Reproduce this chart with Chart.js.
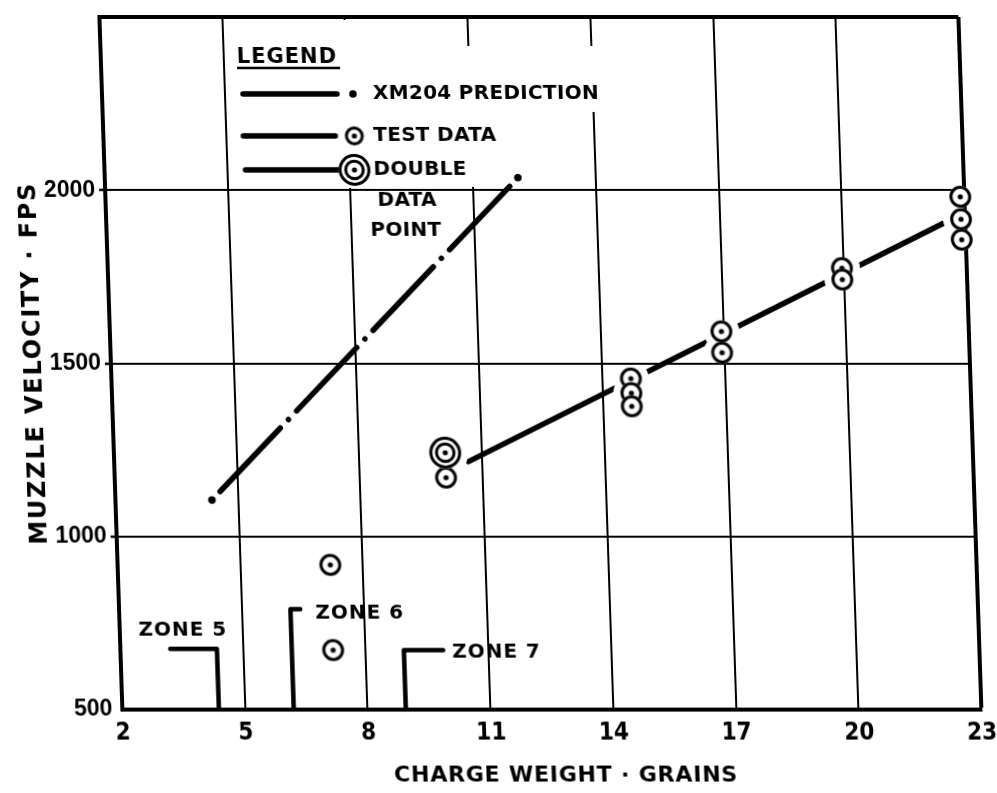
<!DOCTYPE html>
<html><head><meta charset="utf-8">
<script src="https://cdn.jsdelivr.net/npm/chart.js@4.4.0/dist/chart.umd.min.js"></script>
<style>
html,body{margin:0;padding:0;background:#fff;overflow:hidden;}
#wrap{width:997px;height:793px;position:relative;overflow:hidden;background:#fff;}
#c{display:block;transform:skewX(1.9deg);transform-origin:50% 50%;}
</style></head><body><div id="wrap"><canvas id="c" width="997" height="793"></canvas></div>
<script>
// ---- data ----
const xTicks = [2, 5, 8, 11, 14, 17, 20, 23];
const yTicks = [500, 1000, 1500, 2000, 2500];
const yTickLabels = ['500', '1000', '1500', '2000', ''];
const predictionX = [4.36, 12.1];
const predictionY = [1105, 2036];
const testX = [7.2, 7.2, 10.1, 14.7, 14.7, 14.7, 16.95, 16.95, 19.95, 19.95, 22.9, 22.9, 22.9];
const testY = [918, 672, 1170, 1456, 1414, 1376, 1592, 1531, 1775, 1742, 1981, 1916, 1857];
const doubleX = [10.1];
const doubleY = [1242];
const fitX = [10.66, 22.46];
const fitY = [1216, 1904];
const zoneNames = ['ZONE 5', 'ZONE 6', 'ZONE 7'];
const zoneCharge = [4.36, 6.19, 8.93];
const zoneTop = [675, 790, 672];
const zoneArmEnd = [3.22, 6.43, 9.89];
const legendLabels = ['LEGEND', 'XM204 PREDICTION', 'TEST DATA', 'DOUBLE', 'DATA', 'POINT'];
const xTitle = 'CHARGE WEIGHT · GRAINS';
const yTitle = 'MUZZLE VELOCITY · FPS';

// ---- styles ----
const INK = '#000';
const X_FONT = "'Liberation Sans Narrow', 'DejaVu Sans Condensed', 'Liberation Sans', sans-serif";
const Y_FONT = "'Liberation Sans', Arial, sans-serif";
const LBL_FONT = "'DejaVu Sans', sans-serif";

function ring(r, dbl) {
  const s = Math.ceil(2 * r + 2);
  const c = document.createElement('canvas'); c.width = c.height = s;
  const g = c.getContext('2d'); const m = s / 2;
  g.fillStyle = '#fff'; g.beginPath(); g.arc(m, m, r, 0, Math.PI * 2); g.fill();
  g.strokeStyle = INK; g.lineWidth = 3;
  g.beginPath(); g.arc(m, m, r - 1.6, 0, Math.PI * 2); g.stroke();
  if (dbl) { g.beginPath(); g.arc(m, m, r * 0.55, 0, Math.PI * 2); g.stroke(); }
  g.fillStyle = INK; g.beginPath(); g.arc(m, m, 2.6, 0, Math.PI * 2); g.fill();
  return c;
}
const singleMarker = ring(11, false);
const doubleMarker = ring(16, true);
const legendSingle = ring(9.5, false);
const legendDouble = ring(16, true);

const pts = (xs, ys) => xs.map((x, i) => ({x, y: ys[i]}));

const datasets = [];
zoneNames.forEach((n, i) => {
  datasets.push({
    label: n, showLine: true, order: 6,
    data: [{x: zoneArmEnd[i], y: zoneTop[i]}, {x: zoneCharge[i], y: zoneTop[i]}, {x: zoneCharge[i], y: yTicks[0]}],
    borderColor: INK, borderWidth: 4.5, borderJoinStyle: 'round', borderCapStyle: 'round',
    pointRadius: 0, clip: false
  });
});
datasets.push({
  label: 'XM204 PREDICTION', showLine: true, order: 5,
  data: pts(predictionX, predictionY),
  borderColor: INK, borderWidth: 5.5, borderCapStyle: 'round',
  borderDash: (c) => {
    const xs = c.chart.scales.x, ys = c.chart.scales.y;
    if (!xs || !ys) return [];
    const dx = xs.getPixelForValue(predictionX[1]) - xs.getPixelForValue(predictionX[0]);
    const dy = ys.getPixelForValue(predictionY[1]) - ys.getPixelForValue(predictionY[0]);
    const P = Math.hypot(dx, dy) / 4; const gap = 12;
    return [0.01, gap, P - 2 * gap - 0.01, gap];
  },
  pointRadius: 3.8, pointBackgroundColor: INK, pointBorderWidth: 0
});
datasets.push({
  label: 'FIT', showLine: true, order: 4,
  data: pts(fitX, fitY),
  borderColor: INK, borderWidth: 5.5, borderCapStyle: 'round', pointRadius: 0
});
datasets.push({
  label: 'TEST DATA', order: 3, data: pts(testX, testY),
  pointStyle: singleMarker, pointRadius: 11, clip: false
});
datasets.push({
  label: 'DOUBLE DATA POINT', order: 2, data: pts(doubleX, doubleY),
  pointStyle: doubleMarker, pointRadius: 16, clip: false
});
const idx = (l) => datasets.findIndex(d => d.label === l);
const PRED = idx('XM204 PREDICTION'), FIT = idx('FIT'), TEST = idx('TEST DATA'), DBL = idx('DOUBLE DATA POINT');

const titleStyle = {x: {spacing: '0.8px', dx: 12}, y: {spacing: '1.8px', dx: 0}};

const overlay = {
  id: 'overlay',
  afterUpdate(chart) {
    Object.keys(titleStyle).forEach(k => {
      const s = chart.scales[k];
      if (!s || s._spaced) return;
      const orig = s.drawTitle.bind(s);
      s.drawTitle = function () {
        const c = this.ctx; c.save();
        c.letterSpacing = titleStyle[k].spacing; c.translate(titleStyle[k].dx, 0);
        orig(); c.restore();
      };
      s._spaced = true;
    });
  },
  beforeDatasetsDraw(chart) {
    const {ctx, chartArea: a} = chart;
    const L = a.left, T = a.top;
    ctx.save(); ctx.fillStyle = '#fff';
    ctx.fillRect(L + 128, T + 3, 230, 168);
    ctx.fillRect(L + 358, T + 29, 147, 66);
    ctx.fillRect(L + 358, T + 29, 26, 141);
    ctx.restore();
  },
  beforeDatasetDraw(chart, args) {
    if (args.index !== FIT) return;
    const ctx = chart.ctx;
    ctx.save();
    const cut = (meta, r) => meta.data.forEach(p => {
      ctx.beginPath(); ctx.rect(0, 0, chart.width, chart.height);
      ctx.moveTo(p.x + r, p.y); ctx.arc(p.x, p.y, r, 0, Math.PI * 2);
      ctx.clip('evenodd');
    });
    cut(chart.getDatasetMeta(TEST), 18);
    cut(chart.getDatasetMeta(DBL), 23);
  },
  afterDatasetDraw(chart, args) {
    if (args.index === FIT) chart.ctx.restore();
  },
  afterDatasetsDraw(chart) {
    const {ctx, chartArea: a, scales: {x, y}} = chart;
    const L = a.left, T = a.top - 1;
    ctx.save();
    ctx.fillStyle = INK; ctx.strokeStyle = INK;
    // legend title
    ctx.font = 'bold 21px ' + LBL_FONT;
    ctx.textAlign = 'left'; ctx.textBaseline = 'alphabetic';
    ctx.letterSpacing = '1px';
    ctx.fillText(legendLabels[0], L + 136, T + 47);
    ctx.lineWidth = 2.5; ctx.beginPath(); ctx.moveTo(L + 136, T + 52); ctx.lineTo(L + 239, T + 52); ctx.stroke();
    // legend rows
    ctx.lineCap = 'round'; ctx.lineWidth = 5.5;
    const row = (y0, x0, x1) => { ctx.beginPath(); ctx.moveTo(L + x0, T + y0); ctx.lineTo(L + x1, T + y0); ctx.stroke(); };
    row(78, 141, 235); row(120, 140, 232); row(154, 141, 236);
    ctx.beginPath(); ctx.arc(L + 251, T + 78, 3.8, 0, Math.PI * 2); ctx.fill();
    ctx.drawImage(legendSingle, L + 251 - legendSingle.width / 2, T + 120 - legendSingle.height / 2);
    ctx.drawImage(legendDouble, L + 250 - legendDouble.width / 2, T + 154 - legendDouble.height / 2);
    ctx.font = 'bold 20px ' + LBL_FONT; ctx.textBaseline = 'middle';
    ctx.letterSpacing = '0.3px';
    ctx.fillStyle = INK;
    ctx.fillText(legendLabels[1], L + 271, T + 78);
    ctx.fillText(legendLabels[2], L + 270, T + 120);
    ctx.fillText(legendLabels[3], L + 269, T + 154);
    const wData = ctx.measureText(legendLabels[4]).width;
    ctx.fillStyle = '#fff'; ctx.fillRect(L + 270, T + 176, wData + 4, 18);
    ctx.fillStyle = INK;
    ctx.fillText(legendLabels[4], L + 272, T + 185);
    ctx.fillText(legendLabels[5], L + 264, T + 215);
    // zone labels, placed next to their brackets
    ctx.font = 'bold 20px ' + LBL_FONT;
    ctx.letterSpacing = '1px';
    const place = [
      {ax: zoneCharge[0], dx: 11, dy: -19, align: 'right'},
      {ax: zoneArmEnd[1], dx: 15, dy: 4, align: 'left'},
      {ax: zoneArmEnd[2], dx: 9, dy: 2, align: 'left'}
    ];
    zoneNames.forEach((n, i) => {
      ctx.textAlign = place[i].align;
      ctx.fillText(n, x.getPixelForValue(place[i].ax) + place[i].dx, y.getPixelForValue(zoneTop[i]) + place[i].dy);
    });
    ctx.restore();
  }
};

new Chart(document.getElementById('c'), {
  type: 'scatter',
  data: {datasets},
  plugins: [overlay],
  options: {
    responsive: false, devicePixelRatio: 1, animation: false, events: [],
    layout: {padding: {left: 0, right: 26, top: 13, bottom: 0}},
    plugins: {legend: {display: false}, tooltip: {enabled: false}},
    scales: {
      x: {
        type: 'linear', min: xTicks[0], max: xTicks[xTicks.length - 1],
        afterBuildTicks: (s) => { s.ticks = xTicks.map(v => ({value: v})); },
        afterFit: (s) => { s.height = 83; s.paddingLeft = 0; s.paddingRight = 0; },
        ticks: {color: INK, padding: 9, maxRotation: 0, autoSkip: false,
          font: {family: X_FONT, size: 24, weight: 'bold'}},
        grid: {color: INK, drawTicks: false,
          lineWidth: (c) => (c.tick && c.tick.value === xTicks[xTicks.length - 1]) ? 4 : 2},
        border: {display: true, color: INK, width: 4},
        title: {display: true, text: xTitle, color: INK, padding: {top: 0, bottom: 4},
          font: {family: LBL_FONT, size: 22, weight: 'bold'}}
      },
      y: {
        type: 'linear', min: yTicks[0], max: yTicks[yTicks.length - 1],
        afterBuildTicks: (s) => { s.ticks = yTicks.map(v => ({value: v})); },
        afterFit: (s) => { s.width = 112; s.paddingTop = 0; s.paddingBottom = 0; },
        ticks: {color: INK, padding: 4, callback: (v, i) => yTickLabels[i],
          font: {family: Y_FONT, size: 23, weight: 'bold'}},
        grid: {color: INK, tickLength: 6, tickWidth: 2.5,
          tickColor: (c) => (c.tick && (c.tick.value === yTicks[0] || c.tick.value === yTicks[yTicks.length - 1])) ? 'rgba(0,0,0,0)' : INK,
          lineWidth: (c) => (c.tick && c.tick.value === yTicks[yTicks.length - 1]) ? 4 : 2},
        border: {display: true, color: INK, width: 4},
        title: {display: true, text: yTitle, color: INK, padding: {top: 21, bottom: 0},
          font: {family: LBL_FONT, size: 24, weight: 'bold'}}
      }
    }
  }
});
</script></body></html>
